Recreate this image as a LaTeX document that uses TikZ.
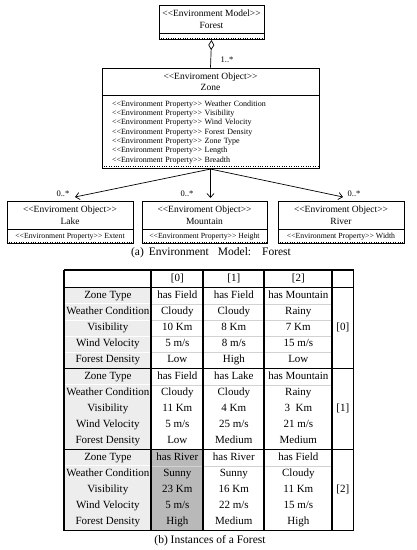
\documentclass[tikz,border=0pt]{standalone}
\usepackage{fontspec}
\setmainfont{Liberation Serif}
\usetikzlibrary{positioning, calc, arrows.meta, matrix}

\newcommand{\stereo}[1]{<\kern0pt<#1>\kern0pt>}
\colorlet{labfill}{gray!14}
\colorlet{hifill}{gray!55}

\begin{document}
\begin{tikzpicture}[x=1pt, y=-1pt, line width=0.7pt,
    umlhead/.style={draw, rectangle, inner sep=0pt, align=center, font=\fontsize{9.5}{11.5}\selectfont},
    umlattr/.style={draw, rectangle, inner sep=0pt, align=center, font=\fontsize{7.8}{9.3}\selectfont},
    umldots/.style={dotted, line width=0.4pt},
    mult/.style={inner sep=0pt, font=\fontsize{8.5}{10}\selectfont},
    assoc/.style={-{Straight Barb[length=4pt,width=7pt]}},
    tabcell/.style={inner sep=0pt, minimum height=16.2pt, text height=7.6pt, text depth=2.4pt, font=\fontsize{11}{13}\selectfont},
    rulethick/.style={line width=1.3pt, black},
    ruleinner/.style={line width=0.6pt, gray!35},
    caption/.style={inner sep=0pt, font=\fontsize{11.5}{13}\selectfont}]

    \path[fill=white, use as bounding box] (0,0) rectangle (416,550);

    % --- (a) ENVIRONMENT MODEL ---
    % Forest model box
    \node[umlhead, minimum width=105pt, minimum height=28pt] (forest) at (211.5,19) {\stereo{Environment Model}\\Forest};
    \node[umlattr, minimum width=105pt, minimum height=6pt, anchor=north] (forestattr) at (forest.south) {};
    \draw[umldots] ([yshift=2pt]forestattr.south west) -- ([yshift=2pt]forestattr.south east);

    % Zone object box with its properties
    \node[umlhead, minimum width=217pt, minimum height=27pt] (zone) at (210.5,81.5) {\stereo{Enviroment Object}\\Zone};
    \node[umlattr, minimum width=217pt, minimum height=73pt, text width=197pt, inner xsep=10pt, align=left, anchor=north,
          font=\fontsize{8}{9.33}\selectfont] (zoneattr) at (zone.south) {%
        \stereo{Environment Property} Weather Condition\\
        \stereo{Environment Property} Visibility\\
        \stereo{Environment Property} Wind Velocity\\
        \stereo{Environment Property} Forest Density\\
        \stereo{Environment Property} Zone Type\\
        \stereo{Environment Property} Length\\
        \stereo{Environment Property} Breadth};
    \draw[umldots] ([yshift=3pt]zoneattr.south west) -- ([yshift=3pt]zoneattr.south east);

    % aggregation Forest -> Zone
    \draw[{Diamond[open,length=10pt,width=6pt]}-] (forestattr.south) -- (zone.north);
    \node[mult] (multzone) at (227,60) {1..*};

    % Lake, Mountain, River boxes
    \node[umlhead, minimum width=126pt, minimum height=28pt] (lake) at (70,215) {\stereo{Enviroment Object}\\Lake};
    \node[umlattr, minimum width=126pt, minimum height=14pt, anchor=north] (lakeattr) at (lake.south) {\stereo{Environment Property} Extent};
    \draw[umldots] ([yshift=2pt]lakeattr.south west) -- ([yshift=2pt]lakeattr.south east);

    \node[umlhead, minimum width=125pt, minimum height=28pt] (mountain) at (204.5,215) {\stereo{Enviroment Object}\\Mountain};
    \node[umlattr, minimum width=125pt, minimum height=14pt, anchor=north] (mountainattr) at (mountain.south) {\stereo{Environment Property} Height};
    \draw[umldots] ([yshift=2pt]mountainattr.south west) -- ([yshift=2pt]mountainattr.south east);

    \node[umlhead, minimum width=126pt, minimum height=28pt] (river) at (341,215) {\stereo{Enviroment Object}\\River};
    \node[umlattr, minimum width=126pt, minimum height=14pt, anchor=north] (riverattr) at (river.south) {\stereo{Environment Property} Width};
    \draw[umldots] ([yshift=2pt]riverattr.south west) -- ([yshift=2pt]riverattr.south east);

    % associations Zone -> objects
    \coordinate (lakeend) at (75,197);
    \coordinate (mountainend) at (210.5,198);
    \coordinate (riverend) at (343,197);
    \draw[assoc] (zoneattr.south) -- (lakeend);
    \draw[assoc] (zoneattr.south) -- (mountainend);
    \draw[assoc] (zoneattr.south) -- (riverend);
    \node[mult] (multlake) at (63,194) {0..*};
    \node[mult] (multmountain) at (187,194) {0..*};
    \node[mult] (multriver) at (354,194) {0..*};

    \node[caption] (capa) at (211,253) {(a)\hspace{5pt}Environment\hspace{9pt}Model:\hspace{11pt}Forest};

    % --- (b) INSTANCES TABLE ---
    \matrix (tbl) [matrix of nodes, nodes in empty cells, anchor=north west, inner sep=0pt,
        row sep=0pt, column sep=0pt, nodes={tabcell},
        column 1/.style={nodes={minimum width=87pt, fill=labfill}},
        column 2/.style={nodes={minimum width=52pt}},
        column 3/.style={nodes={minimum width=61pt}},
        column 4/.style={nodes={minimum width=68pt}},
        column 5/.style={nodes={minimum width=21pt}},
        row 1/.style={nodes={minimum height=17pt, fill=none}},
        row 12 column 2/.style={nodes={fill=hifill}},
        row 13 column 2/.style={nodes={fill=hifill}},
        row 14 column 2/.style={nodes={fill=hifill}},
        row 15 column 2/.style={nodes={fill=hifill}},
        row 16 column 2/.style={nodes={fill=hifill}}] at (64,270) {
          & {[0]} & {[1]} & {[2]} & \\
        Zone Type & has Field & has Field & has Mountain & \\
        Weather Condition & Cloudy & Cloudy & Rainy & \\
        Visibility & 10 Km & 8 Km & 7 Km & \\
        Wind Velocity & 5 m/s & 8 m/s & 15 m/s & \\
        Forest Density & Low & High & Low & \\
        Zone Type & has Field & has Lake & has Mountain & \\
        Weather Condition & Cloudy & Cloudy & Rainy & \\
        Visibility & 11 Km & 4 Km & 3\ \ Km & \\
        Wind Velocity & 5 m/s & 25 m/s & 21 m/s & \\
        Forest Density & Low & Medium & Medium & \\
        Zone Type & has River & has River & has Field & \\
        Weather Condition & Sunny & Sunny & Cloudy & \\
        Visibility & 23 Km & 16 Km & 11 Km & \\
        Wind Velocity & 5 m/s & 22 m/s & 15 m/s & \\
        Forest Density & High & Medium & High & \\
    };

    % thin rules inside each block
    \foreach \r in {2,...,5,7,...,10,12,...,15} {
        \draw[ruleinner, white, line width=1pt] (tbl-\r-1.south west) -- (tbl-\r-1.south east);
        \draw[ruleinner] (tbl-\r-2.south west) -- (tbl-\r-4.south east);
    }
    % thick rules
    \draw[rulethick] (tbl-1-1.north west) -- (tbl-1-5.north east);
    \foreach \r in {1,6,11,16}
        \draw[rulethick] (tbl-\r-1.south west) -- (tbl-\r-5.south east);
    \foreach \c in {1,...,5}
        \draw[rulethick] (tbl-1-\c.north west) -- (tbl-16-\c.south west);
    \draw[rulethick] (tbl-1-5.north east) -- (tbl-16-5.south east);

    % block indices
    \node[tabcell] (idxa) at ($(tbl-2-5.north)!0.5!(tbl-6-5.south)$) {[0]};
    \node[tabcell] (idxb) at ($(tbl-7-5.north)!0.5!(tbl-11-5.south)$) {[1]};
    \node[tabcell] (idxc) at ($(tbl-12-5.north)!0.5!(tbl-16-5.south)$) {[2]};

    \node[caption] (capb) at (210,541) {(b) Instances of a Forest};

\end{tikzpicture}
\end{document}
